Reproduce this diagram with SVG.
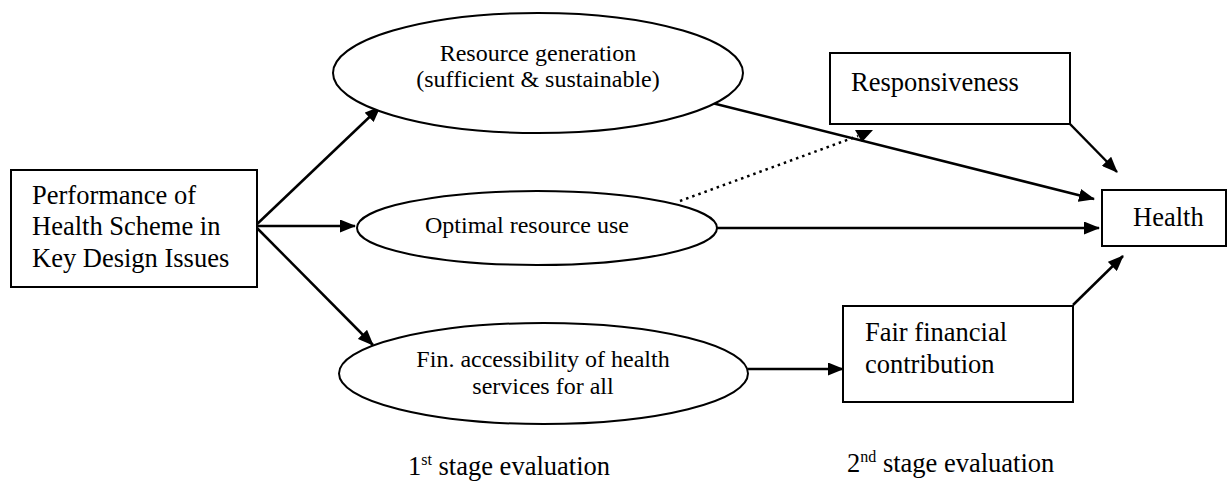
<svg xmlns="http://www.w3.org/2000/svg" width="1228" height="481" viewBox="0 0 1228 481">
<style>
.box{fill:#fff;stroke:#000;stroke-width:2}
.ell{fill:#fff;stroke:#000;stroke-width:2}
.t{font-family:"Liberation Serif","Times New Roman",serif;fill:#000}
.big{font-size:26.5px}
.mid{font-size:24px}
.sup{font-size:16px}
.arr{stroke:#000;stroke-width:2.5;fill:none;marker-end:url(#ah)}
.dot{stroke:#000;stroke-width:2.5;fill:none;stroke-dasharray:2.5 4}
</style>
<defs>
<marker id="ah" markerUnits="userSpaceOnUse" viewBox="0 0 16 13" refX="15" refY="6.5" markerWidth="16" markerHeight="13" orient="auto">
<path d="M0,0 L16,6.5 L0,13 z" fill="#000"/>
</marker>
</defs>
<rect width="1228" height="481" fill="#fff"/>
<g id="connectors">
<line class="arr" x1="255" y1="226" x2="380" y2="107"/>
<line class="arr" x1="255" y1="226" x2="355" y2="226"/>
<line class="arr" x1="255" y1="226" x2="373" y2="345"/>
<line class="arr" x1="712" y1="103" x2="1094" y2="199"/>
<line class="arr" x1="717" y1="228" x2="1099" y2="228"/>
<line class="arr" x1="1070" y1="124" x2="1117" y2="172"/>
<line class="arr" x1="1073" y1="305" x2="1123" y2="256"/>
<line class="arr" x1="748" y1="369" x2="843" y2="369"/>
<line class="dot" x1="680" y1="201" x2="858" y2="136"/>
<polygon points="855,130 873,130 862,142" fill="#000"/>
</g>
<g id="performance">
<rect class="box" x="11" y="170" width="246" height="117"/>
<text class="t big" x="32" y="204">Performance of</text>
<text class="t big" x="32" y="235">Health Scheme in</text>
<text class="t big" x="32" y="267">Key Design Issues</text>
</g>
<g id="resource-generation">
<ellipse class="ell" cx="538" cy="73" rx="205" ry="60"/>
<text class="t mid" x="538" y="61" text-anchor="middle">Resource generation</text>
<text class="t mid" x="538" y="87" text-anchor="middle">(sufficient &amp; sustainable)</text>
</g>
<g id="optimal-use">
<ellipse class="ell" cx="537" cy="228" rx="180" ry="37"/>
<text class="t mid" x="527" y="233" text-anchor="middle">Optimal resource use</text>
</g>
<g id="fin-access">
<ellipse class="ell" cx="543.5" cy="373.5" rx="204.5" ry="50.5"/>
<text class="t mid" x="543" y="367" text-anchor="middle">Fin. accessibility of health</text>
<text class="t mid" x="543" y="394" text-anchor="middle">services for all</text>
</g>
<g id="responsiveness">
<rect class="box" x="830" y="53" width="240" height="71"/>
<text class="t big" x="851" y="91">Responsiveness</text>
</g>
<g id="health">
<rect class="box" x="1102" y="190" width="124" height="56"/>
<text class="t big" x="1133" y="226">Health</text>
</g>
<g id="fair-contribution">
<rect class="box" x="843" y="306" width="230" height="96"/>
<text class="t big" x="865" y="341">Fair financial</text>
<text class="t big" x="865" y="373">contribution</text>
</g>
<g id="stage-labels">
<text class="t big" x="408" y="475">1<tspan class="sup" dy="-10">st</tspan><tspan dy="10"> stage evaluation</tspan></text>
<text class="t big" x="847" y="472">2<tspan class="sup" dy="-10">nd</tspan><tspan dy="10"> stage evaluation</tspan></text>
</g>
</svg>
